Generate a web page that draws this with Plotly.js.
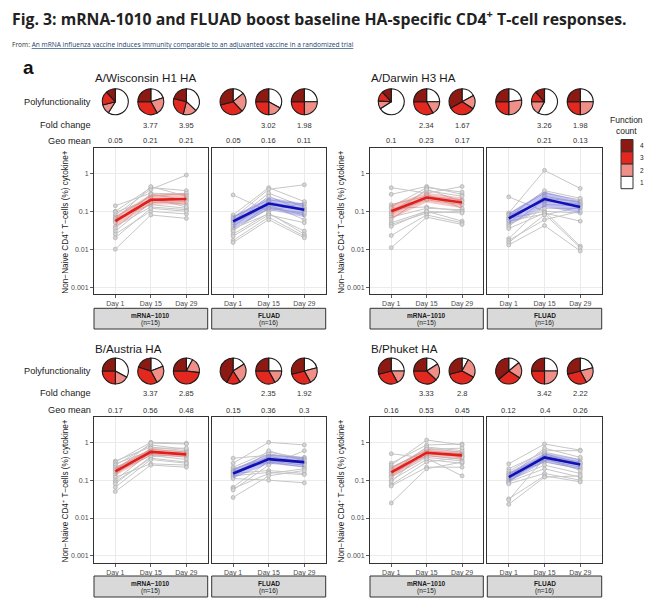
<!DOCTYPE html>
<html>
<head>
<meta charset="utf-8">
<script src="https://cdn.plot.ly/plotly-3.0.1.min.js"></script>
<style>
  html, body { margin: 0; padding: 0; background: #fff; }
  #fig { width: 651px; height: 603px; }
</style>
</head>
<body>
<div id="fig"></div>
<script>
const days = ['Day 1', 'Day 15', 'Day 29'];
const strains = ['A/Wisconsin H1 HA', 'A/Darwin H3 HA', 'B/Austria HA', 'B/Phuket HA'];
const groups = ['mRNA−1010', 'FLUAD'];
const groupN = ['(n=15)', '(n=16)'];
const funcCounts = ['4', '3', '2', '1'];

// individual participants, one array per visit
const wiscMrnaD1  = [0.14, 0.10, 0.095, 0.08, 0.07, 0.065, 0.06, 0.055, 0.05, 0.04, 0.035, 0.03, 0.025, 0.02, 0.01];
const wiscMrnaD15 = [0.30, 0.42, 0.20, 0.38, 0.25, 0.15, 0.45, 0.19, 0.28, 0.13, 0.22, 0.17, 0.10, 0.12, 0.08];
const wiscMrnaD29 = [0.28, 0.35, 0.15, 0.90, 0.30, 0.12, 0.25, 0.22, 0.20, 0.11, 0.13, 0.18, 0.085, 0.10, 0.065];
const wiscFluadD1  = [0.27, 0.08, 0.07, 0.065, 0.06, 0.055, 0.05, 0.045, 0.04, 0.035, 0.032, 0.03, 0.025, 0.022, 0.017, 0.015];
const wiscFluadD15 = [0.10, 0.42, 0.20, 0.38, 0.16, 0.30, 0.13, 0.25, 0.18, 0.085, 0.12, 0.15, 0.09, 0.08, 0.07, 0.06];
const wiscFluadD29 = [0.17, 0.18, 0.15, 0.50, 0.12, 0.13, 0.08, 0.10, 0.11, 0.03, 0.09, 0.06, 0.025, 0.05, 0.022, 0.02];

const darwMrnaD1  = [0.42, 0.28, 0.15, 0.13, 0.12, 0.10, 0.09, 0.08, 0.07, 0.06, 0.05, 0.045, 0.04, 0.023, 0.011];
const darwMrnaD15 = [0.30, 0.45, 0.25, 0.42, 0.13, 0.35, 0.20, 0.38, 0.12, 0.28, 0.10, 0.09, 0.10, 0.08, 0.07];
const darwMrnaD29 = [0.45, 0.28, 0.20, 0.32, 0.10, 0.25, 0.15, 0.18, 0.11, 0.12, 0.055, 0.10, 0.09, 0.05, 0.045];
const darwFluadD1  = [0.24, 0.09, 0.085, 0.08, 0.07, 0.065, 0.06, 0.055, 0.05, 0.045, 0.04, 0.035, 0.019, 0.017, 0.015, 0.013];
const darwFluadD15 = [0.10, 1.2, 0.30, 0.18, 0.35, 0.10, 0.22, 0.085, 0.25, 0.12, 0.20, 0.09, 0.15, 0.06, 0.08, 0.042];
const darwFluadD29 = [0.09, 0.40, 0.20, 0.16, 0.22, 0.012, 0.18, 0.011, 0.17, 0.12, 0.15, 0.055, 0.14, 0.10, 0.13, 0.009];

const austMrnaD1  = [0.32, 0.30, 0.27, 0.25, 0.22, 0.20, 0.18, 0.16, 0.14, 0.12, 0.10, 0.09, 0.08, 0.065, 0.05];
const austMrnaD15 = [0.75, 1.0, 0.60, 0.85, 0.50, 0.65, 0.95, 0.45, 0.70, 0.27, 0.55, 0.38, 0.42, 0.35, 0.25];
const austMrnaD29 = [0.60, 0.95, 0.45, 0.65, 0.40, 0.55, 0.90, 0.35, 0.70, 0.25, 0.50, 0.30, 0.48, 0.28, 0.22];
const austFluadD1  = [0.38, 0.28, 0.22, 0.20, 0.18, 0.17, 0.16, 0.15, 0.14, 0.13, 0.12, 0.11, 0.065, 0.06, 0.055, 0.035];
const austFluadD15 = [0.45, 1.0, 0.55, 0.38, 0.50, 0.30, 0.42, 0.18, 0.35, 0.16, 0.60, 0.10, 0.32, 0.15, 0.25, 0.13];
const austFluadD29 = [0.40, 0.85, 0.38, 0.27, 0.35, 0.22, 0.30, 0.15, 0.28, 0.14, 0.32, 0.085, 0.25, 0.20, 0.60, 0.18];

const phukMrnaD1  = [0.50, 0.28, 0.25, 0.22, 0.20, 0.18, 0.16, 0.15, 0.13, 0.12, 0.10, 0.09, 0.075, 0.07, 0.025];
const phukMrnaD15 = [0.38, 0.85, 1.15, 0.60, 0.70, 0.50, 0.75, 0.45, 0.55, 0.40, 0.35, 0.65, 0.30, 0.22, 0.20];
const phukMrnaD29 = [0.13, 0.90, 0.85, 0.50, 0.55, 0.42, 0.60, 0.35, 0.45, 0.32, 0.28, 0.70, 0.40, 0.22, 0.30];
const phukFluadD1  = [0.27, 0.20, 0.17, 0.15, 0.14, 0.13, 0.12, 0.11, 0.10, 0.095, 0.09, 0.085, 0.08, 0.032, 0.03, 0.023];
const phukFluadD15 = [0.90, 0.55, 0.60, 0.42, 0.45, 0.30, 0.70, 0.35, 0.25, 0.40, 0.20, 0.50, 0.15, 0.13, 0.38, 0.12];
const phukFluadD29 = [0.62, 0.35, 0.60, 0.27, 0.30, 0.20, 0.40, 0.22, 0.15, 0.25, 0.12, 0.28, 0.10, 0.09, 0.18, 0.13];

// geometric mean line and its band
const wiscMrnaGeo = [0.055, 0.20, 0.21], wiscMrnaLo = [0.04, 0.15, 0.15], wiscMrnaHi = [0.075, 0.28, 0.30];
const wiscFluadGeo = [0.054, 0.16, 0.11], wiscFluadLo = [0.035, 0.11, 0.07], wiscFluadHi = [0.075, 0.23, 0.16];
const darwMrnaGeo = [0.10, 0.23, 0.17], darwMrnaLo = [0.065, 0.17, 0.12], darwMrnaHi = [0.15, 0.31, 0.23];
const darwFluadGeo = [0.065, 0.21, 0.13], darwFluadLo = [0.045, 0.13, 0.09], darwFluadHi = [0.09, 0.33, 0.19];
const austMrnaGeo = [0.17, 0.56, 0.48], austMrnaLo = [0.13, 0.45, 0.40], austMrnaHi = [0.22, 0.70, 0.58];
const austFluadGeo = [0.15, 0.36, 0.30], austFluadLo = [0.11, 0.27, 0.22], austFluadHi = [0.20, 0.48, 0.40];
const phukMrnaGeo = [0.16, 0.53, 0.45], phukMrnaLo = [0.12, 0.42, 0.36], phukMrnaHi = [0.22, 0.67, 0.56];
const phukFluadGeo = [0.12, 0.40, 0.26], phukFluadLo = [0.09, 0.30, 0.19], phukFluadHi = [0.16, 0.53, 0.35];

// printed numbers above the panels
const wiscMrnaFold = ['', '3.77', '3.95'], wiscMrnaGeoLbl = ['0.05', '0.21', '0.21'];
const wiscFluadFold = ['', '3.02', '1.98'], wiscFluadGeoLbl = ['0.05', '0.16', '0.11'];
const darwMrnaFold = ['', '2.34', '1.67'], darwMrnaGeoLbl = ['0.1', '0.23', '0.17'];
const darwFluadFold = ['', '3.26', '1.98'], darwFluadGeoLbl = ['', '0.21', '0.13'];
const austMrnaFold = ['', '3.37', '2.85'], austMrnaGeoLbl = ['0.17', '0.56', '0.48'];
const austFluadFold = ['', '2.35', '1.92'], austFluadGeoLbl = ['0.15', '0.36', '0.3'];
const phukMrnaFold = ['', '3.33', '2.8'], phukMrnaGeoLbl = ['0.16', '0.53', '0.45'];
const phukFluadFold = ['', '3.42', '2.22'], phukFluadGeoLbl = ['0.12', '0.4', '0.26'];

// polyfunctionality shares per visit: function count 4, 3, 2, 1
const wiscMrnaPoly = [[0.12, 0.17, 0.12, 0.59], [0.25, 0.33, 0.22, 0.20], [0.21, 0.25, 0.17, 0.37]];
const wiscFluadPoly = [[0.29, 0.33, 0.24, 0.14], [0.25, 0.25, 0.17, 0.33], [0.25, 0.25, 0.25, 0.25]];
const darwMrnaPoly = [[0.12, 0.12, 0.10, 0.66], [0.25, 0.33, 0.17, 0.25], [0.33, 0.33, 0.17, 0.17]];
const darwFluadPoly = [[0.25, 0.25, 0.27, 0.23], [0.12, 0.13, 0.17, 0.58], [0.25, 0.25, 0.25, 0.25]];
const austMrnaPoly = [[0.25, 0.25, 0.17, 0.33], [0.20, 0.38, 0.23, 0.19], [0.25, 0.48, 0.19, 0.08]];
const austFluadPoly = [[0.42, 0.17, 0.25, 0.16], [0.25, 0.33, 0.17, 0.25], [0.29, 0.29, 0.21, 0.21]];
const phukMrnaPoly = [[0.29, 0.29, 0.17, 0.25], [0.25, 0.38, 0.21, 0.16], [0.29, 0.38, 0.25, 0.08]];
const phukFluadPoly = [[0.36, 0.30, 0.20, 0.14], [0.25, 0.25, 0.25, 0.25], [0.29, 0.29, 0.21, 0.21]];

const W = 651, H = 603;
const px = v => v / W;
const py = v => 1 - v / H;

const cells = [
  [wiscMrnaD1, wiscMrnaD15, wiscMrnaD29, wiscMrnaGeo, wiscMrnaLo, wiscMrnaHi, wiscMrnaFold, wiscMrnaGeoLbl, wiscMrnaPoly],
  [wiscFluadD1, wiscFluadD15, wiscFluadD29, wiscFluadGeo, wiscFluadLo, wiscFluadHi, wiscFluadFold, wiscFluadGeoLbl, wiscFluadPoly],
  [darwMrnaD1, darwMrnaD15, darwMrnaD29, darwMrnaGeo, darwMrnaLo, darwMrnaHi, darwMrnaFold, darwMrnaGeoLbl, darwMrnaPoly],
  [darwFluadD1, darwFluadD15, darwFluadD29, darwFluadGeo, darwFluadLo, darwFluadHi, darwFluadFold, darwFluadGeoLbl, darwFluadPoly],
  [austMrnaD1, austMrnaD15, austMrnaD29, austMrnaGeo, austMrnaLo, austMrnaHi, austMrnaFold, austMrnaGeoLbl, austMrnaPoly],
  [austFluadD1, austFluadD15, austFluadD29, austFluadGeo, austFluadLo, austFluadHi, austFluadFold, austFluadGeoLbl, austFluadPoly],
  [phukMrnaD1, phukMrnaD15, phukMrnaD29, phukMrnaGeo, phukMrnaLo, phukMrnaHi, phukMrnaFold, phukMrnaGeoLbl, phukMrnaPoly],
  [phukFluadD1, phukFluadD15, phukFluadD29, phukFluadGeo, phukFluadLo, phukFluadHi, phukFluadFold, phukFluadGeoLbl, phukFluadPoly]
];

// pixel layout of the grid
const colBoxes = [[[94, 207.7], [211.7, 325.7]], [[370, 483.3], [487.3, 601.7]]];
const rowBox = [[148.3, 294], [417.3, 562.7]];
const rowPieY = [101.7, 371], rowFoldY = [125, 393.3], rowGeoY = [140.5, 410], rowTitleY = [78, 348.5];
const rowStrip = [[308.3, 329], [576, 597]];
const xRange = [-0.6, 2.6];
const pieR = 13;

const pieColors = ['#8c1a12', '#e3291f', '#ef8f88', '#ffffff'];
const lineCol = ['#e01f1a', '#1010b8'];
const bandCol = ['rgba(238,90,90,0.35)', 'rgba(90,90,225,0.35)'];

const baseFont = 'Liberation Sans, Arial, sans-serif';
const data = [];
const layout = {
  width: W, height: H,
  margin: {l: 0, r: 0, t: 0, b: 0},
  paper_bgcolor: '#fff', plot_bgcolor: '#fff',
  showlegend: false,
  font: {family: baseFont, color: '#222'},
  annotations: [], shapes: []
};

cells.forEach((c, k) => {
  const [d1, d15, d29, geo, lo, hi, fold, geoLbl, poly] = c;
  const p = Math.floor(k / 2), g = k % 2;
  const row = Math.floor(p / 2), col = p % 2;
  const xb = colBoxes[col][g], yb = rowBox[row];
  const xa = 'x' + (k + 1), ya = 'y' + (k + 1);
  const xn = 'xaxis' + (k + 1), yn = 'yaxis' + (k + 1);

  // participant lines
  const gx = [], gy = [];
  d1.forEach((v, i) => {
    gx.push(days[0], days[1], days[2], null);
    gy.push(v, d15[i], d29[i], null);
  });
  data.push({
    x: gx, y: gy, xaxis: xa, yaxis: ya, type: 'scatter', mode: 'lines+markers',
    line: {color: '#c6c6c6', width: 1},
    marker: {size: 4, color: '#d4d4d4', line: {color: '#a8a8a8', width: 0.6}},
    connectgaps: false, hoverinfo: 'skip'
  });
  // band
  data.push({
    x: days.concat(days.slice().reverse()), y: hi.concat(lo.slice().reverse()),
    xaxis: xa, yaxis: ya, type: 'scatter', mode: 'lines', fill: 'toself',
    fillcolor: bandCol[g], line: {width: 0}, hoverinfo: 'skip'
  });
  // geometric mean
  data.push({
    x: days, y: geo, xaxis: xa, yaxis: ya, type: 'scatter', mode: 'lines',
    line: {color: lineCol[g], width: 2.6}, hoverinfo: 'skip'
  });

  layout[xn] = {
    domain: [px(xb[0]), px(xb[1])], anchor: ya, type: 'category', categoryarray: days,
    range: xRange, showline: true, mirror: true, linecolor: '#333', linewidth: 1,
    ticks: 'outside', ticklen: 3, tickcolor: '#333', tickwidth: 0.8,
    tickfont: {size: 7, color: '#4d4d4d'}, showgrid: true, gridcolor: '#ebebeb', gridwidth: 1,
    zeroline: false, fixedrange: true
  };
  layout[yn] = {
    domain: [py(yb[1]), py(yb[0])], anchor: xa, type: 'log', range: [-3.18, 0.66],
    tickvals: [0.001, 0.01, 0.1, 1], ticktext: ['0.001', '0.01', '0.1', '1'],
    showticklabels: g === 0, ticks: g === 0 ? 'outside' : '', ticklen: 3, tickcolor: '#333', tickwidth: 0.8,
    tickfont: {size: 7, color: '#4d4d4d'}, showline: true, mirror: true, linecolor: '#333', linewidth: 1,
    showgrid: true, gridcolor: '#ebebeb', gridwidth: 1, zeroline: false, fixedrange: true
  };

  // pies and numbers above each visit; drawn clockwise from 12 o'clock as 1, 2, 3, 4
  days.forEach((d, i) => {
    const cx = xb[0] + (i - xRange[0]) / (xRange[1] - xRange[0]) * (xb[1] - xb[0]);
    const cy = rowPieY[row];
    data.push({
      type: 'pie', values: poly[i].slice().reverse(), labels: funcCounts.slice().reverse(), sort: false,
      direction: 'clockwise', rotation: 0, textinfo: 'none', hoverinfo: 'skip',
      marker: {colors: pieColors.slice().reverse(), line: {color: '#1a1a1a', width: 1.1}},
      domain: {x: [px(cx - pieR), px(cx + pieR)], y: [py(cy + pieR), py(cy - pieR)]},
      showlegend: false
    });
    if (fold[i]) layout.annotations.push({
      xref: xa, yref: 'paper', x: d, y: py(rowFoldY[row]), text: fold[i], showarrow: false,
      font: {size: 7.5, color: '#333'}, xanchor: 'center', yanchor: 'middle'
    });
    if (geoLbl[i]) layout.annotations.push({
      xref: xa, yref: 'paper', x: d, y: py(rowGeoY[row]), text: geoLbl[i], showarrow: false,
      font: {size: 7.5, color: '#333'}, xanchor: 'center', yanchor: 'middle'
    });
  });

  // strip under the panel
  layout.shapes.push({
    type: 'rect', xref: 'paper', yref: 'paper',
    x0: px(xb[0]), x1: px(xb[1]), y0: py(rowStrip[row][1]), y1: py(rowStrip[row][0]),
    fillcolor: '#d9d9d9', line: {color: '#333', width: 1}
  });
  const sm = (xb[0] + xb[1]) / 2;
  layout.annotations.push({
    xref: 'paper', yref: 'paper', x: px(sm), y: py(rowStrip[row][0] + 7), text: '<b>' + groups[g] + '</b>',
    showarrow: false, font: {size: 6.5, color: '#1a1a1a'}, xanchor: 'center', yanchor: 'middle'
  });
  layout.annotations.push({
    xref: 'paper', yref: 'paper', x: px(sm), y: py(rowStrip[row][0] + 15), text: groupN[g],
    showarrow: false, font: {size: 6.5, color: '#1a1a1a'}, xanchor: 'center', yanchor: 'middle'
  });
});

// panel titles, row labels, y titles
strains.forEach((s, p) => {
  const row = Math.floor(p / 2), col = p % 2;
  const left = colBoxes[col][0][0];
  layout.annotations.push({
    xref: 'paper', yref: 'paper', x: px(left - 1.5), y: py(rowTitleY[row]), text: s,
    showarrow: false, font: {size: 11.6, color: '#1a1a1a'}, xanchor: 'left', yanchor: 'middle'
  });
  if (col === 0) {
    [['Polyfunctionality', rowPieY[row]], ['Fold change', rowFoldY[row]], ['Geo mean', rowGeoY[row]]].forEach(([t, y]) => {
      layout.annotations.push({
        xref: 'paper', yref: 'paper', x: px(92.5), y: py(y), text: t, showarrow: false,
        font: {size: 9.2, color: '#1a1a1a'}, xanchor: 'right', yanchor: 'middle'
      });
    });
  }
  layout.annotations.push({
    xref: 'paper', yref: 'paper', x: px(left - 30), y: py((rowBox[row][0] + rowBox[row][1]) / 2 + 1.5),
    text: 'Non−Naive CD4<sup>+</sup> T−cells (%) cytokine+', textangle: -90, showarrow: false,
    font: {size: 8.2, color: '#1a1a1a'}, xanchor: 'center', yanchor: 'middle'
  });
});

// figure heading
layout.annotations.push({
  xref: 'paper', yref: 'paper', x: px(10), y: py(18),
  text: '<b>Fig. 3: mRNA-1010 and FLUAD boost baseline HA-specific CD4<sup>+</sup> T-cell responses.</b>',
  showarrow: false, font: {family: 'Open Sans, sans-serif', size: 15.8, color: '#222'}, xanchor: 'left', yanchor: 'middle'
});
layout.annotations.push({
  xref: 'paper', yref: 'paper', x: px(10), y: py(44),
  text: 'From: <span style="color:#1b3f72"><u>An mRNA influenza vaccine induces immunity comparable to an adjuvanted vaccine in a randomized trial</u></span>',
  showarrow: false, font: {family: 'Open Sans, sans-serif', size: 6.6, color: '#333'}, xanchor: 'left', yanchor: 'middle'
});
layout.annotations.push({
  xref: 'paper', yref: 'paper', x: px(21), y: py(67), text: '<b>a</b>',
  showarrow: false, font: {family: baseFont, size: 19, color: '#111'}, xanchor: 'left', yanchor: 'middle'
});

// function count key
layout.annotations.push({
  xref: 'paper', yref: 'paper', x: px(626), y: py(125), text: 'Function<br>count',
  showarrow: false, font: {size: 8.5, color: '#1a1a1a'}, xanchor: 'center', yanchor: 'middle'
});
funcCounts.forEach((f, i) => {
  const top = 139.5 + i * 12.3;
  layout.shapes.push({
    type: 'rect', xref: 'paper', yref: 'paper', x0: px(621), x1: px(633), y0: py(top + 12.3), y1: py(top),
    fillcolor: pieColors[i], line: {color: '#333', width: 1}
  });
  layout.annotations.push({
    xref: 'paper', yref: 'paper', x: px(638), y: py(top + 6.2), text: f, showarrow: false,
    font: {size: 6.5, color: '#1a1a1a'}, xanchor: 'left', yanchor: 'middle'
  });
});

Plotly.newPlot('fig', data, layout, {staticPlot: true, displayModeBar: false});
</script>
</body>
</html>
